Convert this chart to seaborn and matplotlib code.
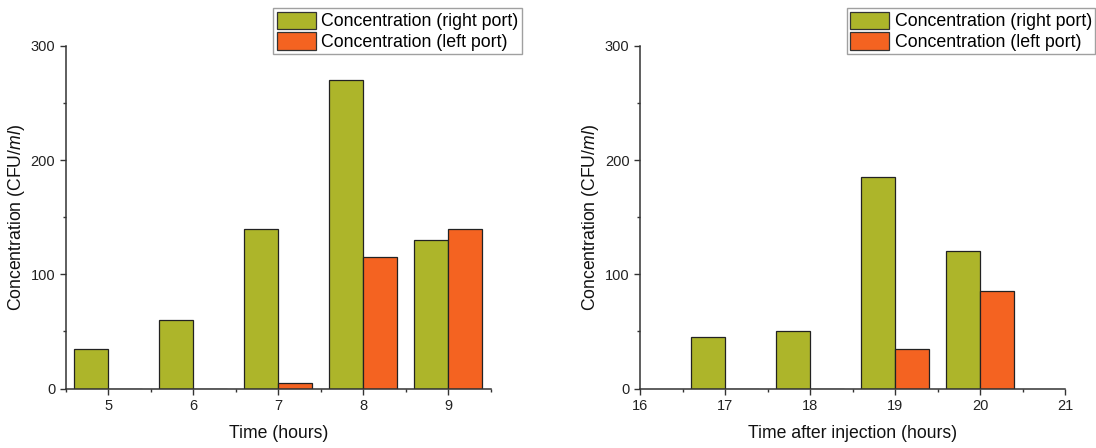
import matplotlib
matplotlib.use("Agg")
import matplotlib.pyplot as plt
from matplotlib.patches import Patch
from matplotlib.ticker import MultipleLocator
import pandas as pd
import seaborn as sns

# Bacterial counts at the two sampling ports
hours_a = [5, 6, 7, 8, 9]
right_port_a = [35, 60, 140, 270, 130]
left_port_a = [0, 0, 5, 115, 140]

hours_b = [17, 18, 19, 20]
right_port_b = [45, 50, 185, 120]
left_port_b = [0, 0, 35, 85]

series_names = ["Concentration (right port)", "Concentration (left port)"]
series_colors = ["#ADB52A", "#F46321"]

xlabel_a = "Time (hours)"
xlabel_b = "Time after injection (hours)"
ylabel = r"Concentration (CFU/$\mathit{ml}$)"

plt.rcParams["font.family"] = ["Liberation Sans", "DejaVu Sans"]
plt.rcParams["mathtext.fontset"] = "custom"
plt.rcParams["mathtext.rm"] = "Liberation Sans"
plt.rcParams["mathtext.it"] = "Liberation Sans:italic"

INK = "#333333"


def long_table(hours, right, left):
    return pd.DataFrame({
        "hour": list(hours) * 2,
        "value": list(right) + list(left),
        "series": [series_names[0]] * len(hours) + [series_names[1]] * len(hours),
    })


W, H = 1096, 448
fig = plt.figure(figsize=(W / 100, H / 100), dpi=100)
ax_w, ax_h = 425 / W, 342.9 / H
ax_bottom = (H - 388.6) / H
ax1 = fig.add_axes([65.7 / W, ax_bottom, ax_w, ax_h])
ax2 = fig.add_axes([640 / W, ax_bottom, ax_w, ax_h])

panels = [
    (ax1, long_table(hours_a, right_port_a, left_port_a), (4.5, 9.5), hours_a, xlabel_a, 273.3),
    (ax2, long_table(hours_b, right_port_b, left_port_b), (16, 21), list(range(16, 22)), xlabel_b, 847),
]

for ax, df, xlim, xticks, xlabel, leg_x in panels:
    sns.barplot(
        data=df, x="hour", y="value", hue="series",
        hue_order=series_names, palette=series_colors,
        native_scale=True, width=0.8, dodge=True,
        edgecolor="#222222", linewidth=0.9, saturation=1,
        errorbar=None, legend=False, ax=ax,
    )
    ax.set_xlim(*xlim)
    ax.set_ylim(0, 300)
    ax.set_xticks(xticks)
    ax.set_xticklabels([str(t) for t in xticks])
    ax.xaxis.set_minor_locator(MultipleLocator(0.5))
    ax.set_yticks([0, 100, 200, 300])
    ax.yaxis.set_minor_locator(MultipleLocator(50))

    for side in ("top", "right"):
        ax.spines[side].set_visible(False)
    for side in ("left", "bottom"):
        ax.spines[side].set_color(INK)
        ax.spines[side].set_linewidth(1.1)

    ax.tick_params(which="major", direction="out", length=4.3, width=1.0,
                   color=INK, labelcolor="#222222", labelsize=10.5, pad=3.2)
    ax.tick_params(which="minor", direction="out", length=2.4, width=1.0, color=INK)

    ax.set_xlabel(xlabel, fontsize=12.7, labelpad=8.5, color="#111111")
    ax.set_ylabel(ylabel, fontsize=12.7, labelpad=2.5, color="#111111")

    handles = [Patch(facecolor=c, edgecolor="#333333", linewidth=0.9) for c in series_colors]
    fig.legend(
        handles, series_names,
        loc="upper left", bbox_to_anchor=(leg_x / W, 1 - 8.3 / H),
        bbox_transform=fig.transFigure, borderaxespad=0,
        fontsize=12.8, frameon=True, fancybox=False, framealpha=1,
        edgecolor="#A0A0A0", borderpad=0.18, handlelength=2.2,
        handleheight=1.15, handletextpad=0.32, labelspacing=0.1,
    ).get_frame().set_linewidth(1.0)

fig.savefig("out.png", dpi=100, facecolor="white")
